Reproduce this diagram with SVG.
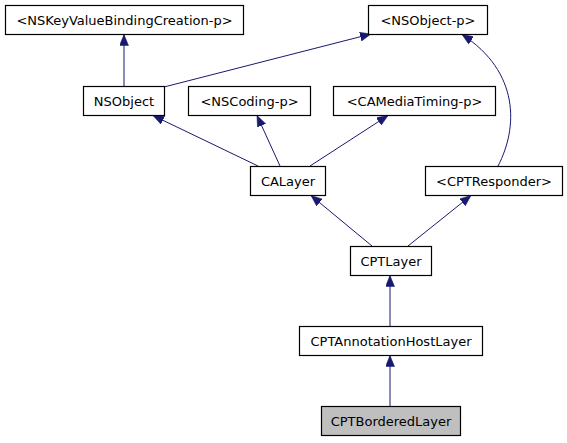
<svg xmlns="http://www.w3.org/2000/svg" width="567" height="443" viewBox="0 0 567 443">
<style>
.n rect{fill:#fff;stroke:#000;stroke-width:1.2}
.n text{font-family:"DejaVu Sans",sans-serif;font-size:13px;text-anchor:middle;fill:#000}
#edges path{fill:none;stroke:#191970;stroke-width:1;marker-end:url(#ah)}
</style>
<defs>
<marker id="ah" markerUnits="userSpaceOnUse" markerWidth="11" markerHeight="9" refX="11" refY="4.5" orient="auto">
<path d="M0,0 L11,4.5 L0,9 z" fill="#191970" stroke="#191970" stroke-width="0.5"/>
</marker>
</defs>
<rect width="567" height="443" fill="#fff"/>
<g id="edges">
<path d="M124,86 L124,34.5"/>
<path d="M164,87 L371,34"/>
<path d="M258,166 L153,115.5"/>
<path d="M280,166 L257,115.5"/>
<path d="M310,166 L388,115.5"/>
<path d="M498,166 C518,128 520,72 462,34.5"/>
<path d="M372,246 L311,195.5"/>
<path d="M408,246 L471,195.5"/>
<path d="M390,326 L390,275.5"/>
<path d="M390,406 L390,355.5"/>
</g>
<g id="n1" class="n"><rect x="5.5" y="5.5" width="238" height="29"/><text x="124.5" y="25">&lt;NSKeyValueBindingCreation-p&gt;</text></g>
<g id="n2" class="n"><rect x="368.5" y="5.5" width="119" height="29"/><text x="428" y="25">&lt;NSObject-p&gt;</text></g>
<g id="n3" class="n"><rect x="83.5" y="86.5" width="81" height="29"/><text x="124" y="106">NSObject</text></g>
<g id="n4" class="n"><rect x="188.5" y="86.5" width="122" height="29"/><text x="249.5" y="106">&lt;NSCoding-p&gt;</text></g>
<g id="n5" class="n"><rect x="333.5" y="86.5" width="162" height="29"/><text x="414.5" y="106">&lt;CAMediaTiming-p&gt;</text></g>
<g id="n6" class="n"><rect x="250.5" y="166.5" width="75" height="29"/><text x="288" y="186">CALayer</text></g>
<g id="n7" class="n"><rect x="425.5" y="166.5" width="137" height="29"/><text x="494" y="186">&lt;CPTResponder&gt;</text></g>
<g id="n8" class="n"><rect x="350.5" y="246.5" width="81" height="29"/><text x="391" y="266">CPTLayer</text></g>
<g id="n9" class="n"><rect x="299.5" y="326.5" width="183" height="29"/><text x="391" y="346">CPTAnnotationHostLayer</text></g>
<g id="n10" class="n"><rect x="321.5" y="406.5" width="139" height="29" style="fill:#bfbfbf"/><text x="391" y="426">CPTBorderedLayer</text></g>
</svg>
